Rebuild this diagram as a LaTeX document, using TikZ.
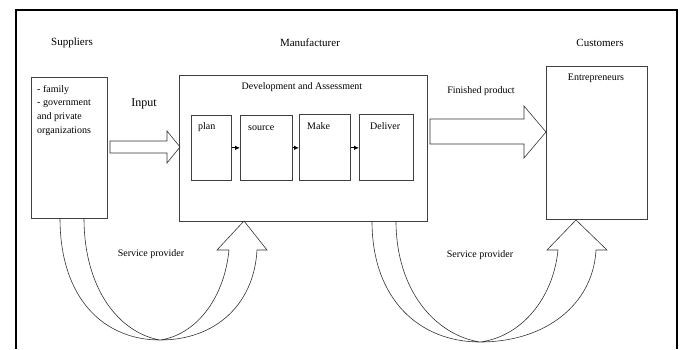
\documentclass[tikz,border=0pt]{standalone}
\usepackage{fontspec}
\setmainfont{Liberation Serif}
\usetikzlibrary{arrows.meta}
\begin{document}
\begin{tikzpicture}[x=1pt,y=-1pt,
  box/.style={draw=black!75, line width=0.7pt, inner sep=0pt, anchor=north west},
  head/.style={font=\fontsize{11}{13}\selectfont, inner sep=0pt},
  txt/.style={font=\fontsize{10}{12}\selectfont, inner sep=0pt},
  blk/.style={draw=black!80, line width=0.6pt, line join=miter},
  small/.style={-{Latex[length=5pt,width=4.5pt]}, line width=0.8pt}]
\useasboundingbox (0,0) rectangle (681,349);
% frame
\draw[line width=2pt] (16,349) -- (16,10) -- (677,10) -- (677,349);
% headings
\node[head] (hsup) at (72,43) {Suppliers};
\node[head] (hman) at (310,43) {Manufacturer};
\node[head] (hcus) at (600,43) {Customers};
% suppliers box
\node[box, minimum width=76, minimum height=141] (sup) at (31,77) {};
\node[txt, anchor=north west, align=left, font=\fontsize{10}{13.7}\selectfont] (suptxt) at (37,85)
  {- family\\- government\\and private\\organizations};
% manufacturer
\node[box, minimum width=248, minimum height=146] (mfr) at (179,75) {};
\node[txt] (dev) at (302,87) {Development and Assessment};
\node[box, minimum width=40, minimum height=65] (plan) at (191,115) {};
\node[box, minimum width=52, minimum height=65] (source) at (240,115) {};
\node[box, minimum width=51, minimum height=66] (make) at (299,114) {};
\node[box, minimum width=54, minimum height=66] (deliver) at (359,114) {};
\node[txt, anchor=west] (tplan) at (198,127) {plan};
\node[txt, anchor=west] (tsource) at (248,128) {source};
\node[txt, anchor=west] (tmake) at (307,126) {Make};
\node[txt, anchor=west] (tdeliver) at (370,126) {Deliver};
\draw[small] (plan.east) -- (source.west);
\draw[small] (source.east) -- (make.west |- source.east);
\draw[small] (make.east |- source.east) -- (deliver.west |- source.east);
% customers
\node[box, minimum width=101, minimum height=153] (ent) at (546,66) {};
\node[txt] (tent) at (596,78) {Entrepreneurs};
% input arrow
\node[font=\fontsize{12}{14}\selectfont, inner sep=0pt] (tin) at (144,104) {Input};
\draw[blk] (110,141) -- (167,141) -- (167,131) -- (180,147) -- (167,163) -- (167,153) -- (110,153) -- cycle;
% finished product arrow
\node[txt] (tfin) at (481,91) {Finished product};
\draw[blk] (430,119) -- (524,119) -- (524,106) -- (546,132) -- (524,158) -- (524,144) -- (430,144) -- cycle;
% left U-turn arrow
\draw[blk] (60,218) .. controls (60,300) and (105,340) .. (160,340)
  .. controls (215,340) and (254,305) .. (257,250) -- (267,250) -- (244,221) -- (217,250) -- (229,250)
  .. controls (224,300) and (195,335) .. (160,340)
  .. controls (120,333) and (84,290) .. (84,218);
\node[txt] (sp1) at (151,254) {Service provider};
% right U-turn arrow
\draw[blk] (372,221) .. controls (372,300) and (420,342) .. (480,342)
  .. controls (545,342) and (593,305) .. (596,250) -- (607,250) -- (576,220) -- (547,250) -- (558,250)
  .. controls (553,300) and (520,337) .. (480,342)
  .. controls (435,335) and (396,290) .. (396,221);
\node[txt] (sp2) at (480,255) {Service provider};
\end{tikzpicture}
\end{document}
